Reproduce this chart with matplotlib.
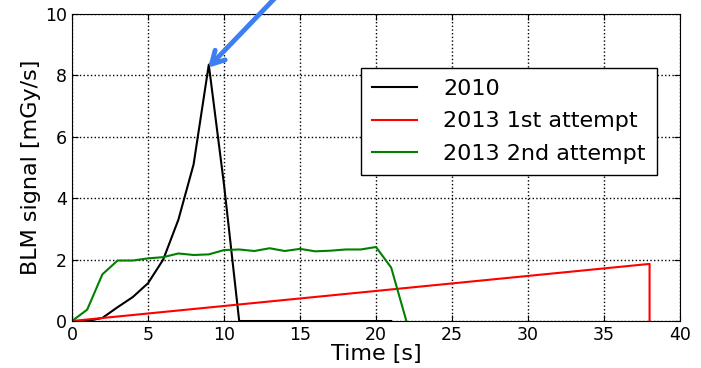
import matplotlib
matplotlib.use("Agg")
import matplotlib.pyplot as plt

# 2010 run
t_2010 = list(range(0, 22))
blm_2010 = [0, 0, 0.1, 0.45, 0.78, 1.23, 2.0, 3.3, 5.1, 8.35, 4.45, 0,
            0, 0, 0, 0, 0, 0, 0, 0, 0, 0]

# 2013 first attempt
t_2013a = [0, 38, 38]
blm_2013a = [0, 1.86, 0]

# 2013 second attempt
t_2013b = list(range(0, 23))
blm_2013b = [0, 0.37, 1.52, 1.97, 1.97, 2.04, 2.08, 2.2, 2.15, 2.17, 2.31,
             2.33, 2.28, 2.37, 2.28, 2.35, 2.27, 2.29, 2.33, 2.33, 2.41, 1.74, 0]

fig = plt.figure(figsize=(7.01, 3.68), dpi=100)
ax = fig.add_axes([0.1027, 0.1277, 0.8673, 0.8343])

ax.plot(t_2010, blm_2010, color="black", lw=1.5, label="2010")
ax.plot(t_2013a, blm_2013a, color="red", lw=1.5, label="2013 1st attempt")
ax.plot(t_2013b, blm_2013b, color="green", lw=1.5, label="2013 2nd attempt")

ax.set_xlim(0, 40)
ax.set_ylim(0, 10)
ax.set_xticks(range(0, 41, 5))
ax.set_yticks(range(0, 11, 2))
ax.grid(True, color="black", linestyle=":", linewidth=1)
ax.tick_params(direction="in", labelsize=12.5, length=4, top=True, right=True)
ax.set_xlabel("Time [s]", fontsize=16, labelpad=0)
ax.set_ylabel("BLM signal [mGy/s]", fontsize=16, labelpad=3)

leg = ax.legend(loc="upper right", bbox_to_anchor=(0.962, 0.824), fontsize=16,
                fancybox=False, framealpha=1, edgecolor="black",
                handlelength=2.0, handletextpad=1.2, borderpad=0.5,
                labelspacing=0.55, borderaxespad=0)
leg.get_frame().set_linewidth(1)

ax.annotate("", xy=(8.95, 8.25), xytext=(13.9, 10.8),
            annotation_clip=False,
            arrowprops=dict(arrowstyle="->,head_length=0.9,head_width=0.5",
                            color="#3d7ff0", lw=3.5, shrinkA=0, shrinkB=0))

fig.savefig("out.png", dpi=100)
